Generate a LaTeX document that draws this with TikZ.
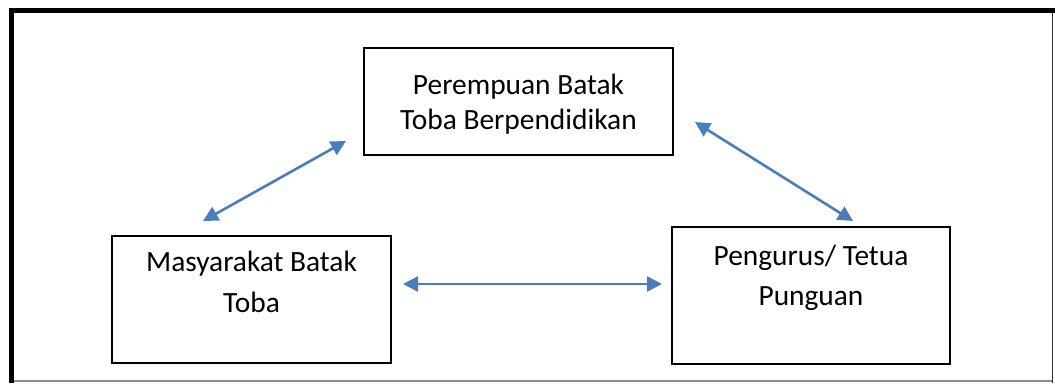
\documentclass[tikz,border=0pt]{standalone}
\usepackage{fontspec}
\setmainfont{Carlito}
\usetikzlibrary{arrows.meta}
\definecolor{arrowblue}{HTML}{4A7EBB}
\tikzset{
  box/.style={draw=black, line width=1.1pt, rectangle, inner sep=0pt},
  txt/.style={font=\fontsize{29.4}{35}\selectfont, anchor=base, inner sep=0pt},
  link/.style={draw=arrowblue, line width=2.6pt, {Triangle[length=15pt,width=15pt]}-{Triangle[length=15pt,width=15pt]}}
}
\begin{document}
\begin{tikzpicture}[x=1pt,y=-1pt]
\useasboundingbox (0,0) rectangle (1055,383);
\fill[white] (0,0) rectangle (1055,383);
% frame
\draw[black, line width=5pt] (11.5,383) -- (11.5,10.5) -- (1055,10.5);
\draw[black!80, line width=1.6pt] (1052.3,13) -- (1052.3,383);
\draw[black!45, line width=1.4pt] (14,381) -- (1051.5,381);
% boxes
\node[box, minimum width=309pt, minimum height=107pt] (top) at (518.5,101.5) {};
\node[box, minimum width=279pt, minimum height=127pt] (left) at (251.5,299.5) {};
\node[box, minimum width=278pt, minimum height=137pt] (right) at (811,295.5) {};
% texts
\node[txt] (t1) at (518.5,94.3) {Perempuan Batak};
\node[txt] (t2) at (518.5,129.3) {Toba Berpendidikan};
\node[txt] (l1) at (251.5,271.7) {Masyarakat Batak};
\node[txt] (l2) at (251.5,312.3) {Toba};
\node[txt] (r1) at (811,265.7) {Pengurus/ Tetua};
\node[txt] (r2) at (811,305.2) {Punguan};
% arrow ends
\coordinate (a1) at (203,221);
\coordinate (a2) at (346,141);
\coordinate (b1) at (403,284);
\coordinate (b2) at (662,284);
\coordinate (c1) at (695,122);
\coordinate (c2) at (853,221);
\draw[link] (a1) -- (a2);
\draw[link] (b1) -- (b2);
\draw[link] (c1) -- (c2);
\end{tikzpicture}
\end{document}
